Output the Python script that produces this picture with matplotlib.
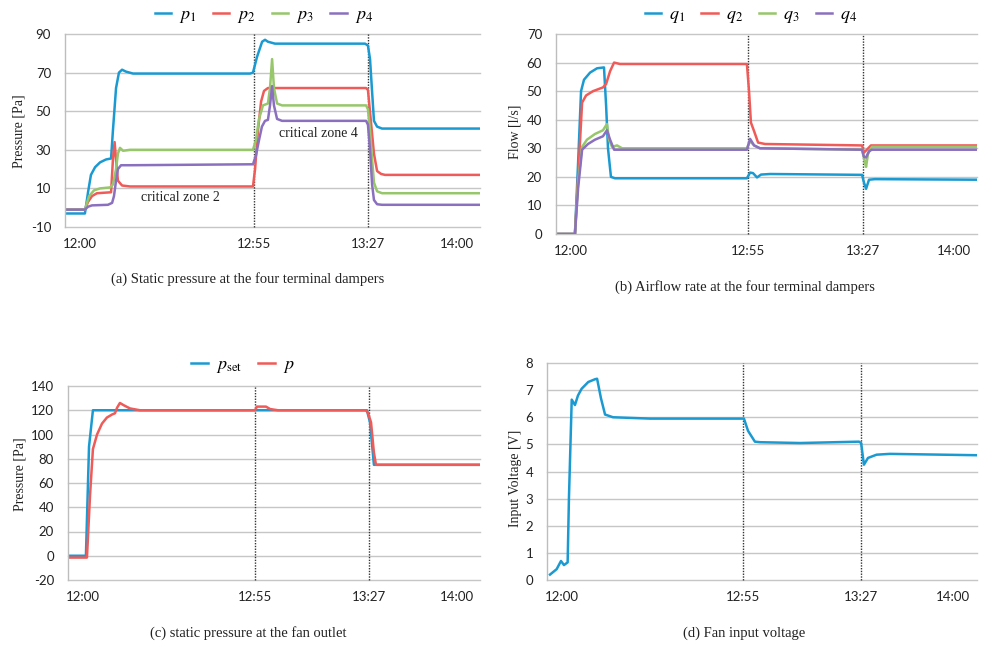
import matplotlib
matplotlib.use('Agg')
import matplotlib.pyplot as plt

plt.rcParams['mathtext.fontset'] = 'stix'
plt.rcParams['axes.unicode_minus'] = False
SERIF = 'Liberation Serif'
SANS = 'Lato'

W, H = 982, 649

# time axis is the logger sample index; clock labels sit at these samples
tick_pos = [7, 91, 146, 189]
tick_lab = ['12:00', '12:55', '13:27', '14:00']
event_pos = [91, 146]

BLUE = '#1b9ad2'
RED = '#ee5b58'
GREEN = '#97c66b'
PURPLE = '#8b70bf'

# (a) static pressure at the terminal dampers [Pa]
p1_t = [0, 9.6, 11.1, 12.5, 14.5, 16.9, 19.8, 22.2, 23.1, 24.6, 26.0, 27.5, 29.4, 32.8,
        89.2, 90.6, 92.5, 95.0, 96.4, 97.8, 101.2, 144.6, 146.0, 147.0, 148.0, 148.9,
        150.4, 152.8, 200]
p1_v = [-3, -3, 8, 17, 21, 23.5, 25, 25.5, 40, 62, 70, 71.5, 70.5, 69.5,
        69.5, 70, 78, 86, 87, 86, 85, 85, 84, 77, 60, 45,
        42, 41, 41]
p2_t = [0, 9.6, 11.1, 13.0, 15.4, 22.2, 23.1, 23.9, 24.6, 25.5, 27.5, 31.3, 90.6,
        91.6, 93.0, 94.5, 95.9, 97.8, 145.1, 146.0, 147.4, 148.9, 150.4, 152.3, 154.2, 200]
p2_v = [-1, -1, 3, 6, 7.5, 8, 25, 34, 25, 14, 11.5, 11, 11,
        20, 40, 55, 60.5, 62, 62, 61, 45, 28, 19, 17.5, 17, 17]
p3_t = [0, 9.6, 11.6, 14.0, 16.9, 21.7, 23.1, 24.6, 25.5, 26.5, 28.0, 31.3, 90.6,
        92.0, 93.5, 95.4, 97.8, 98.8, 99.8, 100.7, 102.2, 104.6, 145.1, 146.0, 147.0,
        148.0, 148.9, 150.4, 152.8, 200]
p3_v = [-1, -1, 6, 9, 10, 10.5, 12, 20, 28, 31, 29.5, 30, 30,
        35, 46, 53, 54, 62, 77, 62, 54, 53, 53, 51, 40,
        25, 13, 8.5, 7.5, 7.5]
p4_t = [0, 9.6, 11.1, 13.0, 20.7, 22.7, 23.6, 24.6, 25.5, 27.0, 31.3, 90.6,
        92.0, 93.5, 94.9, 96.4, 97.8, 98.8, 99.8, 100.7, 102.2, 104.6, 145.1, 146.0,
        147.0, 148.0, 148.9, 150.4, 152.8, 200]
p4_v = [-1, -1, 0.5, 1.2, 1.5, 2.5, 6, 14, 20, 22, 22, 22.5,
        27, 35, 42, 45, 45.5, 53, 63, 53, 46, 45, 45, 43,
        30, 12, 4, 1.8, 1.5, 1.5]

# (b) airflow rate at the terminal dampers [l/s]
q1_t = [0, 9.0, 10.5, 11.9, 13.3, 16.2, 19.5, 22.8, 23.8, 24.7, 26.1, 28.0, 90.7,
        92.2, 93.6, 95.5, 97.4, 101.7, 145.4, 146.3, 147.3, 148.7, 151.5, 200]
q1_v = [0, 0, 25, 50, 54, 56.5, 58, 58.3, 45, 30, 20, 19.5, 19.5,
        21.5, 21.3, 19.8, 20.8, 21, 20.7, 18, 15.8, 19, 19.2, 19]
q2_t = [0, 9.0, 10.5, 12.4, 14.3, 17.6, 22.3, 23.8, 25.7, 27.6, 30.4, 90.7,
        91.7, 92.6, 94.1, 96.0, 99.3, 145.4, 146.3, 147.7, 149.6, 200]
q2_v = [0, 0, 20, 46, 48.5, 50, 51.3, 52.5, 57, 60, 59.5, 59.5,
        50, 39, 36, 32, 31.5, 31, 28.5, 29.5, 31, 31]
q3_t = [0, 9.0, 10.5, 12.4, 14.7, 18.5, 22.3, 24.2, 25.2, 26.6, 29.0, 31.4, 90.7,
        92.2, 94.1, 96.9, 145.4, 146.8, 147.3, 148.2, 150.1, 200]
q3_v = [0, 0, 18, 30.5, 33, 35, 36.3, 38.5, 33, 30.5, 31, 30, 30,
        32.5, 31, 30, 29.5, 25, 23.5, 28, 30.5, 30.5]
q4_t = [0, 9.0, 10.5, 12.4, 15.2, 18.5, 22.3, 24.2, 25.7, 27.6, 90.7,
        92.2, 94.1, 96.9, 145.4, 146.3, 147.3, 148.7, 150.1, 200]
q4_v = [0, 0, 16, 29.5, 31.5, 33, 34.2, 36.3, 33, 29.5, 29.5,
        33.3, 31, 30, 29.5, 27, 26.8, 29, 29.5, 29.5]

# (c) fan outlet static pressure [Pa]
pset_t = [0, 8.7, 10.2, 12.1, 145.1, 146.6, 148.5, 200]
pset_v = [0, 0, 90, 120, 120, 110, 75, 75]
p_t = [0, 9.2, 10.7, 12.1, 14.1, 16.5, 18.9, 21.4, 22.8, 23.8, 25.2, 27.2, 30.1, 34.9,
       90.8, 91.7, 96.1, 98.1, 101.9, 144.6, 145.6, 147.1, 148.5, 149.5, 200]
p_v = [-1.5, -1.5, 50, 88, 100, 109, 114, 116.5, 117.5, 122, 126, 124, 121.5, 120,
       120, 123, 123, 121, 120, 120, 118, 110, 85, 75, 75]

# (d) fan input voltage [V]
v_t = [1.4, 4.5, 6.5, 7.9, 9.6, 10.2, 11.5, 13.0, 14.4, 16.1, 19.2, 22.3, 23.3, 25.1,
       27.0, 30.7, 47.9, 91.6, 93.5, 96.7, 99.1, 117.7, 145.1, 146.1, 147.4, 149.3,
       153.3, 159.5, 200]
v_v = [0.2, 0.4, 0.7, 0.55, 0.65, 3, 6.65, 6.45, 6.8, 7.05, 7.3, 7.4, 7.42, 6.7,
       6.1, 6.0, 5.95, 5.95, 5.5, 5.1, 5.08, 5.05, 5.1, 5.05, 4.25, 4.5,
       4.62, 4.65, 4.6]


fig = plt.figure(figsize=(W / 100, H / 100), dpi=100)
fig.patch.set_facecolor('white')


def px_axes(left, top, right, bottom):
    return fig.add_axes([left / W, 1 - bottom / H, (right - left) / W, (bottom - top) / H])


def setup(ax, ylo, yhi, step):
    ax.set_xlim(0, 200)
    ax.set_ylim(ylo, yhi)
    yt = list(range(ylo, yhi + 1, step))
    ax.set_yticks(yt)
    ax.set_xticks(tick_pos)
    ax.set_xticklabels(tick_lab)
    for s in ['top', 'right', 'bottom']:
        ax.spines[s].set_visible(False)
    ax.spines['left'].set_color('#bdbdbd')
    ax.spines['left'].set_linewidth(1.0)
    for y in yt:
        ax.axhline(y, color='#c6c6c6', lw=1.0, zorder=0, clip_on=False)
    # dotted markers at the setpoint changes
    for x in event_pos:
        ax.axvline(x, color='#333333', lw=1.0, ls=(0, (1, 1)), zorder=1, clip_on=False)
    ax.tick_params(length=0, labelsize=9.5)
    ax.tick_params(axis='y', pad=10)
    ax.tick_params(axis='x', pad=8)
    for lab in ax.get_xticklabels() + ax.get_yticklabels():
        lab.set_family(SANS)
        lab.set_color('#222222')


def side_label(x, y, s):
    fig.text(x / W, 1 - y / H, s, rotation=90, ha='center', va='center',
             family=SERIF, fontsize=10, color='#222222')


def caption(x, y, s):
    fig.text(x / W, 1 - y / H, s, ha='center', va='center',
             family=SERIF, fontsize=10.5, color='#222222')


def top_legend(lines, x, y):
    fig.legend(handles=lines, loc='center', bbox_to_anchor=(x / W, 1 - y / H), ncol=len(lines),
               frameon=False, fontsize=13, handlelength=0.9, handletextpad=0.45,
               columnspacing=0.9, borderaxespad=0, borderpad=0)


LW = 1.8

# (a)
ax = px_axes(65, 34, 480, 227)
setup(ax, -10, 90, 20)
ax.plot(p1_t, p1_v, color=BLUE, lw=LW, label='$p_1$')
ax.plot(p2_t, p2_v, color=RED, lw=LW, label='$p_2$')
ax.plot(p3_t, p3_v, color=GREEN, lw=LW, label='$p_3$')
ax.plot(p4_t, p4_v, color=PURPLE, lw=LW, label='$p_4$')
ax.text(55.4, 5.5, 'critical zone 2', ha='center', va='center', family=SERIF, fontsize=10, color='#222222')
ax.text(122, 38.7, 'critical zone 4', ha='center', va='center', family=SERIF, fontsize=10, color='#222222')
top_legend(ax.lines[-4:], 264, 15)
side_label(19, 131, 'Pressure [Pa]')
caption(248, 279, '(a) Static pressure at the four terminal dampers')

# (b)
ax = px_axes(556, 34, 977, 234)
setup(ax, 0, 70, 10)
ax.plot(q1_t, q1_v, color=BLUE, lw=LW, label='$q_1$')
ax.plot(q2_t, q2_v, color=RED, lw=LW, label='$q_2$')
ax.plot(q3_t, q3_v, color=GREEN, lw=LW, label='$q_3$')
ax.plot(q4_t, q4_v, color=PURPLE, lw=LW, label='$q_4$')
top_legend(ax.lines[-4:], 751, 15)
side_label(515, 132, 'Flow [l/s]')
caption(745, 287, '(b) Airflow rate at the four terminal dampers')

# (c)
ax = px_axes(68, 386, 480, 580)
setup(ax, -20, 140, 20)
ax.plot(pset_t, pset_v, color=BLUE, lw=LW, label=r'$p_{\mathrm{set}}$')
ax.plot(p_t, p_v, color=RED, lw=LW, label='$p$')
top_legend(ax.lines[-2:], 243, 365)
side_label(20, 474, 'Pressure [Pa]')
caption(248, 633, '(c) static pressure at the fan outlet')

# (d)
ax = px_axes(547, 363, 977, 580)
setup(ax, 0, 8, 1)
ax.plot(v_t, v_v, color=BLUE, lw=LW)
side_label(516, 478, 'Input Voltage [V]')
caption(744, 633, '(d) Fan input voltage')

fig.savefig('out.png', dpi=100)
